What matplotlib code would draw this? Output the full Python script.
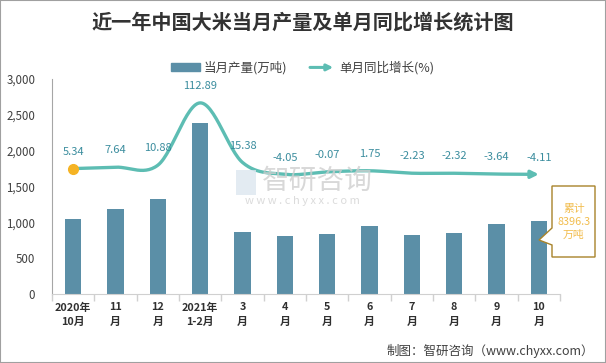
import numpy as np
import matplotlib
matplotlib.use("Agg")
import matplotlib.pyplot as plt
from matplotlib.patches import Patch, Rectangle, Polygon, FancyArrowPatch
from matplotlib.legend_handler import HandlerBase
from matplotlib.lines import Line2D

plt.rcParams['font.family'] = ['Noto Sans CJK SC', 'DejaVu Sans']

# ---- data ----
categories = ["2020年\n10月", "11\n月", "12\n月", "2021年\n1-2月", "3\n月", "4\n月",
              "5\n月", "6\n月", "7\n月", "8\n月", "9\n月", "10\n月"]
production = [1050, 1190, 1330, 2380, 865, 810, 840, 950, 825, 850, 975, 1020]
growth = [5.34, 7.64, 10.88, 112.89, 15.38, -4.05, -0.07, 1.75, -2.23, -2.32, -3.64, -4.11]
growth_labels = ["5.34", "7.64", "10.88", "112.89", "15.38", "-4.05", "-0.07", "1.75",
                 "-2.23", "-2.32", "-3.64", "-4.11"]
cumulative_label = "累计\n8396.3\n万吨"

title = "近一年中国大米当月产量及单月同比增长统计图"
legend_bar = "当月产量(万吨)"
legend_line = "单月同比增长(%)"
source = "制图：智研咨询（www.chyxx.com）"

BAR_C = "#5b8fa7"
LINE_C = "#5dbdb3"
LABEL_C = "#3b8d9e"
TEXT_C = "#404040"

W, H = 606, 363
fig = plt.figure(figsize=(W / 100, H / 100), dpi=100)

def fx(px):
    return px / W

def fy(py):
    return 1 - py / H

ax = fig.add_axes([fx(52), fy(294), fx(560) - fx(52), fy(79) - fy(294)])
x = np.arange(len(categories))
ax.bar(x, production, width=0.38, color=BAR_C, zorder=2)
ax.set_xlim(-0.5, len(categories) - 0.5)
ax.set_ylim(0, 3000)
ax.set_yticks(np.arange(0, 3001, 500))
ax.set_yticklabels([f"{v:,}" for v in range(0, 3001, 500)], fontsize=8.3, color=TEXT_C)
ax.tick_params(axis='y', length=0, pad=12)
ax.set_xticks(x)
ax.set_xticklabels(categories, fontsize=7.8, fontweight='bold', color="#303030", linespacing=1.6)
ax.tick_params(axis='x', which='major', length=0, pad=6)
ax.set_xticks(np.arange(-0.5, len(categories), 1), minor=True)
ax.tick_params(axis='x', which='minor', length=5, color="#d0d0d0", width=1)
for s in ['top', 'right']:
    ax.spines[s].set_visible(False)
ax.spines['left'].set_color("#a6a6a6")
ax.spines['bottom'].set_color("#d0d0d0")

# secondary axis for growth line
ax2 = ax.twinx()
ax2.set_ylim(-200, 152)
ax2.set_xlim(-0.5, len(categories) - 0.5)
ax2.axis('off')

# Catmull-Rom smoothing
gx = x.astype(float)
gy = np.array(growth, dtype=float)
px = np.concatenate([[2 * gx[0] - gx[1]], gx, [2 * gx[-1] - gx[-2]]])
py = np.concatenate([[2 * gy[0] - gy[1]], gy, [2 * gy[-1] - gy[-2]]])
sx, sy = [], []
t = np.linspace(0, 1, 30)
for i in range(1, len(px) - 2):
    p0, p1, p2, p3 = (px[i-1], py[i-1]), (px[i], py[i]), (px[i+1], py[i+1]), (px[i+2], py[i+2])
    for k in range(2):
        a0, a1, a2, a3 = p0[k], p1[k], p2[k], p3[k]
        v = 0.5 * ((2 * a1) + (-a0 + a2) * t + (2 * a0 - 5 * a1 + 4 * a2 - a3) * t ** 2
                   + (-a0 + 3 * a1 - 3 * a2 + a3) * t ** 3)
        (sx if k == 0 else sy).append(v if i == len(px) - 3 else v[:-1])
sx = np.concatenate(sx)
sy = np.concatenate(sy)
ax2.plot(sx[:-3], sy[:-3], color=LINE_C, lw=2.4, zorder=3, solid_capstyle='butt')
ax2.annotate('', xy=(sx[-1], sy[-1]), xytext=(sx[-8], sy[-8]),
             arrowprops=dict(arrowstyle='-|>', color=LINE_C, lw=2.4, mutation_scale=11,
                             shrinkA=0, shrinkB=0), zorder=3)
ax2.plot([gx[0]], [gy[0]], 'o', color="#f5b324", ms=7, zorder=4)
for xi, yi, lab in zip(gx, gy, growth_labels):
    ax2.annotate(lab, (xi, yi), xytext=(0, 8.5), textcoords='offset points',
                 ha='center', va='bottom', fontsize=8, color=LABEL_C, zorder=5)

# title
fig.text(0.5, fy(22), title, ha='center', va='center', fontsize=14.5, fontweight='bold', color="#333333")

# legend
class ArrowHandler(HandlerBase):
    def create_artists(self, legend, orig, xdescent, ydescent, width, height, fontsize, trans):
        a = FancyArrowPatch((-xdescent, height / 2 - ydescent), (width - xdescent, height / 2 - ydescent),
                            arrowstyle='-|>', mutation_scale=9, lw=2.2, color=LINE_C, transform=trans)
        return [a]

arrow_handle = Line2D([], [], color=LINE_C)
fig.legend([Patch(color=BAR_C), arrow_handle], [legend_bar, legend_line],
           handler_map={arrow_handle: ArrowHandler()},
           loc='center', bbox_to_anchor=(0.5, fy(68)), ncol=2, frameon=False,
           fontsize=9, handlelength=2.3, handleheight=0.6, columnspacing=1.6, handletextpad=0.3,
           labelcolor=TEXT_C)

# callout box
poly = [(552, 186), (595, 186), (595, 257), (552, 257), (552, 245), (539, 240), (552, 228)]
fig.patches.append(Polygon([(fx(a), fy(b)) for a, b in poly], closed=True, transform=fig.transFigure,
                           facecolor='white', edgecolor="#a8832a", lw=1, zorder=6))
fig.text(fx(574), fy(222), cumulative_label, ha='center', va='center', fontsize=7.8,
         color="#f2bd4e", linespacing=1.35, zorder=7)

# watermark
fig.patches.append(Rectangle((fx(236), fy(195)), fx(20), fy(170) - fy(195), transform=fig.transFigure,
                             facecolor="#dde6ef", edgecolor='none', alpha=0.8, zorder=1))
fig.text(fx(317), fy(181), "智研咨询", ha='center', va='center', fontsize=20, color="#cfcfcf",
         alpha=0.8, zorder=1)
fig.text(fx(302), fy(201), "w w w . c h y x x . c o m", ha='center', va='center', fontsize=8,
         color="#d2d2d2", alpha=0.8, zorder=1)

# source
fig.text(fx(594), fy(351), source, ha='right', va='center', fontsize=9, color=TEXT_C)

# border
fig.patches.append(Rectangle((0, 0), 1, 1, transform=fig.transFigure, fill=False,
                             edgecolor="#a0a0a0", lw=1.5))

fig.savefig("out.png", dpi=100)
